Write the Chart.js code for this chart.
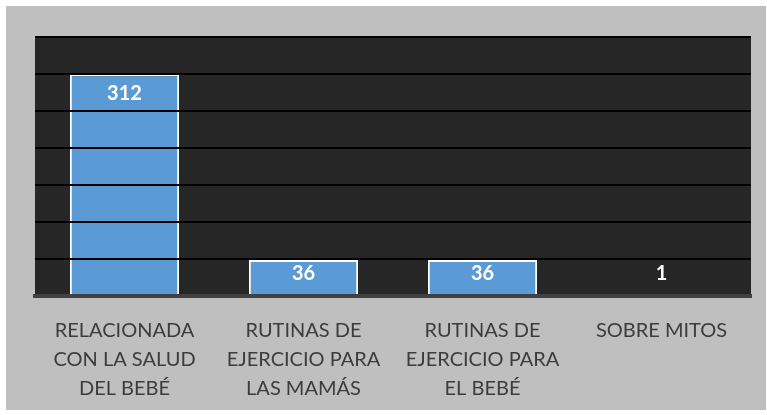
<!DOCTYPE html>
<html>
<head>
<meta charset="utf-8">
<script src="https://cdn.jsdelivr.net/npm/chart.js@4.4.0/dist/chart.umd.min.js"></script>
<style>
    html, body { margin: 0; padding: 0; background: #ffffff; }
    #wrap { width: 767px; height: 415px; position: relative; }
</style>
</head>
<body>
<div id="wrap"><canvas id="chart"></canvas></div>
<script>
    // Chart data
    const categories = [
        ['RELACIONADA', 'CON LA SALUD', 'DEL BEBÉ'],
        ['RUTINAS DE', 'EJERCICIO PARA', 'LAS MAMÁS'],
        ['RUTINAS DE', 'EJERCICIO PARA', 'EL BEBÉ'],
        ['SOBRE MITOS']
    ];
    const counts = [312, 36, 36, 1];
    const yMax = 375;
    const gridSteps = 7;
    // the source axis is hidden and not linear; a power curve fits its bar heights
    const yExponent = 0.842;

    // Linear scale with a power transform, grid lines evenly spaced in pixels
    class PowerScale extends Chart.LinearScale {
        buildTicks() {
            const ticks = [];
            for (let i = 0; i <= gridSteps; i++) {
                ticks.push({ value: this.min + Math.pow(i / gridSteps, 1 / yExponent) * (this.max - this.min) });
            }
            this.start = this.min;
            this.end = this.max;
            return ticks;
        }
        getPixelForValue(value) {
            if (value === null || isNaN(value)) return NaN;
            const t = Math.max(0, (value - this._startValue) / this._valueRange);
            return this.getPixelForDecimal(Math.pow(t, yExponent));
        }
        getValueForPixel(pixel) {
            const t = Math.max(0, this.getDecimalForPixel(pixel));
            return this._startValue + Math.pow(t, 1 / yExponent) * this._valueRange;
        }
    }
    PowerScale.id = 'power';
    PowerScale.defaults = Chart.LinearScale.defaults;
    Chart.register(PowerScale);

    // Grey frame + dark plot area
    const backgroundPlugin = {
        id: 'background',
        beforeDraw(chart) {
            const { ctx, chartArea } = chart;
            ctx.save();
            ctx.fillStyle = '#bfbfbf';
            ctx.fillRect(6, 6, 760, 404);
            ctx.fillStyle = '#262626';
            ctx.fillRect(chartArea.left, chartArea.top, chartArea.right - chartArea.left, chartArea.bottom - chartArea.top);
            ctx.restore();
        }
    };

    // Value labels inside the bars
    const valueLabels = {
        id: 'valueLabels',
        afterDraw(chart) {
            const { ctx, chartArea } = chart;
            const meta = chart.getDatasetMeta(0);
            ctx.save();
            ctx.fillStyle = '#ffffff';
            ctx.font = 'bold 20px Lato';
            ctx.textAlign = 'center';
            ctx.textBaseline = 'middle';
            meta.data.forEach((bar, i) => {
                const y = Math.min(bar.y + 19, chartArea.bottom - 22);
                ctx.fillText(String(counts[i]), bar.x, y);
            });
            ctx.restore();
        }
    };

    const ctx = document.getElementById('chart').getContext('2d');
    new Chart(ctx, {
        type: 'bar',
        data: {
            labels: categories,
            datasets: [{
                data: counts,
                backgroundColor: '#5b9bd5',
                borderColor: '#ffffff',
                borderWidth: 2,
                borderSkipped: 'bottom',
                categoryPercentage: 1,
                barPercentage: 0.61
            }]
        },
        options: {
            responsive: true,
            maintainAspectRatio: false,
            animation: false,
            layout: { padding: { left: 35, right: 16, top: 37, bottom: 0 } },
            plugins: {
                legend: { display: false },
                tooltip: { enabled: false }
            },
            scales: {
                x: {
                    grid: { display: false, drawTicks: false },
                    border: { display: true, color: '#404040', width: 4, z: 2 },
                    ticks: {
                        color: '#3c3c3c',
                        font: { family: 'Lato', size: 20, lineHeight: 1.45 },
                        padding: 20,
                        maxRotation: 0,
                        autoSkip: false
                    },
                    afterFit(scale) { scale.height = 119; }
                },
                y: {
                    type: 'power',
                    min: 0,
                    max: yMax,
                    ticks: { display: false },
                    grid: { color: '#000000', lineWidth: 2, drawTicks: false, z: 1 },
                    border: { display: false },
                    afterFit(scale) { scale.width = 0; }
                }
            }
        },
        plugins: [backgroundPlugin, valueLabels]
    });
</script>
</body>
</html>
